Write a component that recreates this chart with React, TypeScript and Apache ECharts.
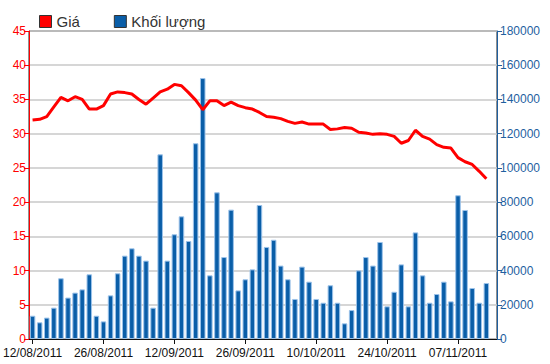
import React, { useEffect, useRef } from "react";
import * as echarts from "echarts";

const dates = [
  "12/08/2011", "15/08/2011", "16/08/2011", "17/08/2011", "18/08/2011", "19/08/2011",
  "22/08/2011", "23/08/2011", "24/08/2011", "25/08/2011", "26/08/2011",
  "29/08/2011", "30/08/2011", "31/08/2011", "01/09/2011", "05/09/2011", "06/09/2011",
  "07/09/2011", "08/09/2011", "09/09/2011", "12/09/2011",
  "13/09/2011", "14/09/2011", "15/09/2011", "16/09/2011", "19/09/2011", "20/09/2011",
  "21/09/2011", "22/09/2011", "23/09/2011", "26/09/2011",
  "27/09/2011", "28/09/2011", "29/09/2011", "30/09/2011", "03/10/2011", "04/10/2011",
  "05/10/2011", "06/10/2011", "07/10/2011", "10/10/2011",
  "11/10/2011", "12/10/2011", "13/10/2011", "14/10/2011", "17/10/2011", "18/10/2011",
  "19/10/2011", "20/10/2011", "21/10/2011", "24/10/2011",
  "25/10/2011", "26/10/2011", "27/10/2011", "28/10/2011", "31/10/2011", "01/11/2011",
  "02/11/2011", "03/11/2011", "04/11/2011", "07/11/2011",
  "08/11/2011", "09/11/2011", "10/11/2011", "11/11/2011", "14/11/2011",
];

const price = [
  32.0, 32.1, 32.5, 33.9, 35.3, 34.8, 35.4, 35.0, 33.6, 33.6,
  34.1, 35.8, 36.1, 36.0, 35.8, 35.0, 34.3, 35.2, 36.1, 36.5,
  37.2, 37.0, 36.0, 34.9, 33.5, 34.8, 34.8, 34.1, 34.6, 34.1,
  33.8, 33.6, 33.1, 32.5, 32.4, 32.2, 31.8, 31.5, 31.7, 31.4,
  31.4, 31.4, 30.6, 30.7, 30.9, 30.8, 30.2, 30.1, 29.9, 30.0,
  29.9, 29.6, 28.6, 29.0, 30.5, 29.6, 29.2, 28.4, 28.0, 27.9,
  26.5, 25.9, 25.5, 24.5, 23.4,
];

const volume = [
  13600, 9750, 12500, 18300, 35500, 24200, 27100, 29000, 37800, 13600,
  10300, 25500, 38400, 48700, 53000, 48700, 45800, 18300, 107900, 45800,
  61200, 71700, 57300, 114400, 152500, 37200, 85700, 47900, 75600, 28400,
  34900, 40700, 78300, 53800, 58000, 42900, 34900, 23400, 42300, 33500,
  23400, 21200, 31400, 21200, 9150, 16900, 40100, 47900, 42900, 56700,
  19100, 27600, 43600, 19100, 62300, 37200, 21200, 26300, 33500, 22000,
  84000, 75400, 29800, 21200, 32700,
];

const FONT = "Liberation Sans, Arial, sans-serif";

export default function App() {
  const ref = useRef<HTMLDivElement>(null);
  useEffect(() => {
    if (!ref.current) return;
    const chart = echarts.init(ref.current, null, { renderer: "svg" });
    chart.setOption({
      animation: false,
      textStyle: { fontFamily: FONT },
      legend: {
        left: 34,
        top: 9,
        icon: "rect",
        itemWidth: 12,
        itemHeight: 12,
        itemGap: 34,
        textStyle: { fontSize: 15, color: "#333", fontFamily: FONT },
        data: [
          { name: "Giá", itemStyle: { color: "#ff0000", borderColor: "#333", borderWidth: 1 } },
          { name: "Khối lượng", itemStyle: { color: "#0a5ea8", borderColor: "#333", borderWidth: 1 } },
        ],
      },
      grid: { left: 27, right: 53, top: 31, bottom: 25, show: true, borderColor: "#222", borderWidth: 1 },
      xAxis: {
        type: "category",
        data: dates,
        boundaryGap: true,
        axisLine: { lineStyle: { color: "#111", width: 1 } },
        axisTick: { show: true, interval: 9, alignWithLabel: true, length: 5, lineStyle: { color: "#111" } },
        axisLabel: { interval: 9, color: "#111", fontSize: 12, margin: 8, fontFamily: FONT },
        splitLine: { show: false },
      },
      yAxis: [
        {
          type: "value",
          min: 0,
          max: 45,
          interval: 5,
          position: "left",
          axisLine: { show: true, lineStyle: { color: "#ff0000", width: 1 } },
          axisTick: { show: true, length: 5, lineStyle: { color: "#ff0000" } },
          axisLabel: { color: "#ff0000", fontSize: 12, margin: 3, fontFamily: FONT },
          splitLine: { show: true, lineStyle: { color: "#c8c8c8", width: 1.5 } },
        },
        {
          type: "value",
          min: 0,
          max: 180000,
          interval: 20000,
          position: "right",
          axisLine: { show: true, lineStyle: { color: "#1f5f9f", width: 1 } },
          axisTick: { show: true, length: 5, lineStyle: { color: "#1f5f9f" } },
          axisLabel: {
            color: "#1f5f9f",
            fontSize: 12,
            margin: 3,
            fontFamily: FONT,
            formatter: (v: number) => String(v),
          },
          splitLine: { show: false },
        },
      ],
      series: [
        {
          name: "Khối lượng",
          type: "bar",
          yAxisIndex: 1,
          data: volume,
          barWidth: "78%",
          itemStyle: { color: "#0a5ea8", borderColor: "#9cc3ea", borderWidth: 1 },
          z: 2,
        },
        {
          name: "Giá",
          type: "line",
          yAxisIndex: 0,
          data: price,
          showSymbol: false,
          symbol: "none",
          lineStyle: { color: "#ff0000", width: 3 },
          itemStyle: { color: "#ff0000" },
          z: 3,
        },
      ],
    });
    return () => chart.dispose();
  }, []);
  return <div ref={ref} style={{ width: 550, height: 364, position: "absolute", left: 0, top: 0, background: "#fff" }} />;
}
